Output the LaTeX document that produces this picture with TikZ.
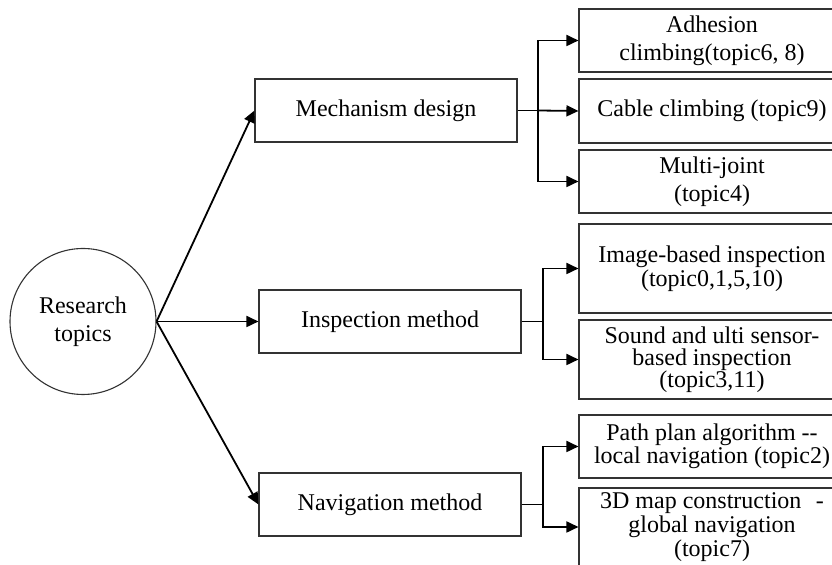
\documentclass[tikz,border=0pt]{standalone}
\usepackage{fontspec}
\setmainfont{Liberation Serif}
\usetikzlibrary{arrows.meta}
\tikzset{
  box/.style={draw=black!80, line width=0.55pt, rectangle, inner sep=0pt, align=center,
    font=\fontsize{12}{13.8}\selectfont},
  lbox/.style={box, minimum width=131pt, minimum height=31.5pt},
  rbox/.style={box, minimum width=133pt},
  conn/.style={line width=0.9pt, black},
  arr/.style={conn, -{Triangle[length=6pt,width=5.5pt]}},
}
\begin{document}
\begin{tikzpicture}[x=0.5pt,y=-0.5pt]
\useasboundingbox (0,0) rectangle (832,565);
\clip (0,0) rectangle (832,565);
\fill[white] (0,0) rectangle (832,565);
% root
\node[draw=black!80, line width=0.55pt, circle, minimum size=73pt, inner sep=0pt, align=center,
  font=\fontsize{12}{14}\selectfont] (circ) at (83,321.5) {Research\\topics};
% level 1
\node[lbox] (mech) at (386,110.5) {Mechanism design};
\node[lbox] (insp) at (390,321.5) {Inspection method};
\node[lbox] (nav)  at (390,504.5) {Navigation method};
% level 2
\node[rbox, minimum height=31.5pt] (adh) at (712,40.5) {Adhesion\\climbing(topic6, 8)};
\node[rbox, minimum height=32pt] (cab) at (712,111) {Cable climbing (topic9)};
\node[rbox, minimum height=31.5pt] (mul) at (712,181.5) {Multi-joint\\(topic4)};
\node[rbox, minimum height=44.5pt, font=\fontsize{12}{10.5}\selectfont] (img) at (712,268.5) {Image-based inspection\\(topic0,1,5,10)};
\node[rbox, minimum height=39.5pt, font=\fontsize{12}{11}\selectfont] (snd) at (712,359.5) {Sound and ulti sensor-\\based inspection\\(topic3,11)};
\node[rbox, minimum height=31.5pt, font=\fontsize{12}{11.5}\selectfont] (path) at (712,446.5) {Path plan algorithm -{}-\\local navigation (topic2)};
\node[rbox, minimum height=39pt, font=\fontsize{12}{12}\selectfont] (map) at (712,527) {3D map construction\hspace{0.6em}-\\global navigation\\(topic7)};
% root connectors
\draw[arr] (circ.east) -- (mech.west);
\draw[arr] (circ.east) -- (insp.west);
\draw[arr] (circ.east) -- (nav.west);
% mechanism branch
\coordinate (mj) at (538,110.5);
\draw[conn] (mech.east) -- (mj);
\draw[arr] (mj) |- (adh.west);
\draw[arr] (mj) -- (cab.west);
\draw[arr] (mj) |- (mul.west);
% inspection branch
\coordinate (ij) at (543,321.5);
\draw[conn] (insp.east) -- (ij);
\draw[arr] (ij) |- (img.west);
\draw[arr] (ij) |- (snd.west);
% navigation branch
\coordinate (nj) at (543,504.5);
\draw[conn] (nav.east) -- (nj);
\draw[arr] (nj) |- (path.west);
\draw[arr] (nj) |- (map.west);
\end{tikzpicture}
\end{document}
